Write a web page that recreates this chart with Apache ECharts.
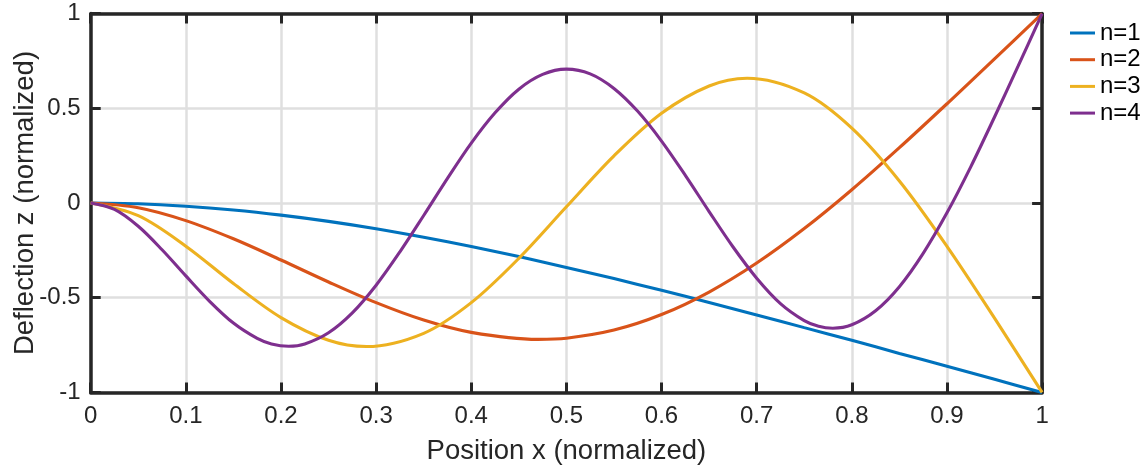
<!DOCTYPE html>
<html>
<head>
<meta charset="utf-8">
<script src="https://cdn.jsdelivr.net/npm/echarts@6/dist/echarts.min.js"></script>
<style>
html,body{margin:0;padding:0;background:#fff;}
#chart{width:1148px;height:470px;}
</style>
</head>
<body>
<div id="chart"></div>
<script>
// x positions (normalized) for each curve
const x1 = [0,0.05,0.1,0.15,0.2,0.25,0.3,0.35,0.4,0.45,0.5,0.55,0.6,0.65,0.7,0.75,0.8,0.85,0.9,0.95,1];
const x2 = [0,0.05,0.1,0.15,0.2,0.25,0.3,0.35,0.4,0.47,0.5,0.55,0.6,0.65,0.7,0.75,0.8,0.85,0.9,0.95,1];
const x3 = [0,0.05,0.1,0.15,0.2,0.25,0.29,0.35,0.4,0.45,0.5,0.55,0.6,0.65,0.69,0.75,0.8,0.85,0.9,0.95,1];
const x4 = [0,0.025,0.05,0.075,0.1,0.125,0.15,0.175,0.19,0.208,0.225,0.25,0.275,0.3,0.325,0.35,0.375,0.4,0.425,0.45,0.475,0.5,0.525,0.55,0.575,0.6,0.625,0.65,0.675,0.7,0.725,0.75,0.765,0.78,0.8,0.825,0.85,0.875,0.9,0.925,0.95,0.975,1];

// deflection values
const n1 = [0,-0.004,-0.017,-0.037,-0.064,-0.097,-0.136,-0.181,-0.230,-0.283,-0.340,-0.399,-0.461,-0.525,-0.591,-0.658,-0.725,-0.794,-0.862,-0.931,-1];
const n2 = [0,-0.025,-0.093,-0.189,-0.301,-0.417,-0.526,-0.618,-0.683,-0.720,-0.714,-0.671,-0.589,-0.470,-0.317,-0.135,0.070,0.292,0.524,0.761,1];
const n3 = [0,-0.067,-0.228,-0.425,-0.605,-0.725,-0.758,-0.688,-0.526,-0.292,-0.020,0.249,0.474,0.618,0.659,0.581,0.395,0.116,-0.229,-0.608,-1];
const n4 = [0,-0.034,-0.123,-0.247,-0.385,-0.519,-0.634,-0.715,-0.744,-0.756,-0.744,-0.685,-0.580,-0.434,-0.258,-0.066,0.130,0.316,0.476,0.601,0.679,0.707,0.682,0.605,0.484,0.327,0.146,-0.045,-0.231,-0.397,-0.531,-0.621,-0.651,-0.661,-0.643,-0.569,-0.442,-0.266,-0.052,0.191,0.454,0.725,1];

const seriesNames = ['n=1','n=2','n=3','n=4'];
const seriesColors = ['#0072BD','#D95319','#EDB120','#7E2F8E'];
const seriesX = [x1, x2, x3, x4];
const seriesY = [n1, n2, n3, n4];

const xLabel = 'Position x (normalized)';
const yLabel = 'Deflection z (normalized)';

const FONT = 'Liberation Sans, Arial, Helvetica, sans-serif';
const AX = '#262626';
const GRID = '#dfdfdf';

const chart = echarts.init(document.getElementById('chart'), null, {renderer:'canvas'});

const series = seriesNames.map((name, i) => ({
  name: name,
  type: 'line',
  xAxisIndex: 0,
  yAxisIndex: 0,
  data: seriesX[i].map((x, k) => [x, seriesY[i][k]]),
  smooth: 0.33,
  showSymbol: false,
  symbol: 'none',
  lineStyle: {color: seriesColors[i], width: 3.1},
  itemStyle: {color: seriesColors[i]},
  animation: false,
  z: 3 + i
}));

const tickCommon = {inside: true, length: 10, lineStyle: {color: AX, width: 3}};
const lineCommon = {show: true, onZero: false, lineStyle: {color: AX, width: 3.5}};

chart.setOption({
  backgroundColor: '#ffffff',
  animation: false,
  grid: {left: 90.7, right: 105.9, top: 13.6, bottom: 77.6, containLabel: false, outerBoundsMode: 'none'},
  legend: {
    orient: 'vertical',
    left: 1070,
    top: 21,
    padding: 0,
    itemWidth: 25,
    itemHeight: 3,
    itemGap: 2.7,
    icon: 'rect',
    textStyle: {fontFamily: FONT, fontSize: 24, color: '#000'},
    data: seriesNames
  },
  xAxis: [{
    type: 'value', min: 0, max: 1, interval: 0.1, position: 'bottom',
    axisLine: lineCommon,
    axisTick: tickCommon,
    axisLabel: {fontFamily: FONT, fontSize: 24, color: AX, margin: 12},
    splitLine: {show: true, lineStyle: {color: GRID, width: 2.5}},
    name: xLabel, nameLocation: 'middle', nameGap: 45, nameMoveOverlap: false,
    nameTextStyle: {fontFamily: FONT, fontSize: 27.5, color: AX}
  },{
    type: 'value', min: 0, max: 1, interval: 0.1, position: 'top',
    axisLine: lineCommon,
    axisTick: tickCommon,
    axisLabel: {show: false},
    splitLine: {show: false}
  }],
  yAxis: [{
    type: 'value', min: -1, max: 1, interval: 0.5, position: 'left',
    axisLine: lineCommon,
    axisTick: tickCommon,
    axisLabel: {fontFamily: FONT, fontSize: 24, color: AX, margin: 10},
    splitLine: {show: true, lineStyle: {color: GRID, width: 2.5}},
    name: yLabel, nameLocation: 'middle', nameGap: 51, nameRotate: 90, nameMoveOverlap: false,
    nameTextStyle: {fontFamily: FONT, fontSize: 27.5, color: AX}
  },{
    type: 'value', min: -1, max: 1, interval: 0.5, position: 'right',
    axisLine: lineCommon,
    axisTick: tickCommon,
    axisLabel: {show: false},
    splitLine: {show: false}
  }],
  series: series
});
</script>
</body>
</html>
